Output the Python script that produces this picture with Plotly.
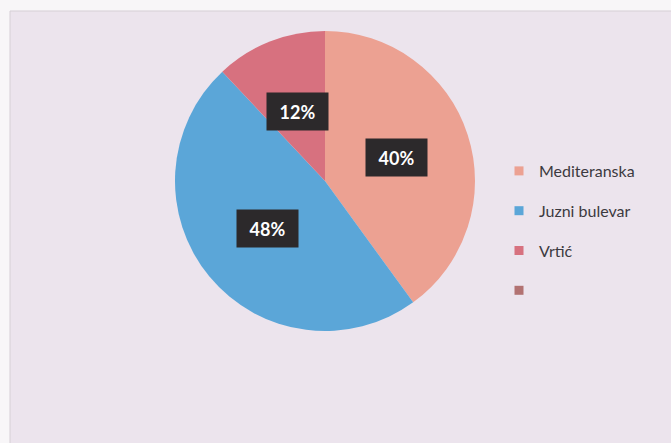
import math
import plotly.graph_objects as go

# ---- data ----
labels = ["Mediteranska", "Juzni bulevar", "Vrtić", ""]
values = [40, 48, 12, 0]
colors = ["#eca192", "#5ba6d8", "#d7717f", "#b27272"]

W, H = 671, 443
# pie geometry (pixels)
PCX, PCY, PR = 325, 181, 150
dom_x = [(PCX - PR) / W, (PCX + PR) / W]
dom_y = [1 - (PCY + PR) / H, 1 - (PCY - PR) / H]

fig = go.Figure()
fig.add_trace(go.Pie(
    labels=labels, values=values,
    marker=dict(colors=colors, line=dict(width=0)),
    sort=False, direction="clockwise", rotation=0,
    textinfo="none", hoverinfo="label+percent",
    showlegend=False,
    domain=dict(x=dom_x, y=dom_y),
))

# legend entries (one group per item to get wider row spacing)
for lab, col in zip(labels, colors):
    fig.add_trace(go.Scatter(
        x=[None], y=[None], mode="markers", name=lab,
        legendgroup=lab if lab else "blank",
        marker=dict(symbol="square", size=9, color=col),
        hoverinfo="skip",
    ))

# percentage labels derived from values, placed at mid-angle, half radius
total = sum(values)
annotations = []
cum = 0
cx = (dom_x[0] + dom_x[1]) / 2
cy = (dom_y[0] + dom_y[1]) / 2
for v in values:
    if v > 0:
        mid = (cum + v / 2) / total * 2 * math.pi
        rr = 0.5 * PR
        ax = cx + rr * math.sin(mid) / W
        ay = cy + rr * math.cos(mid) / H
        annotations.append(dict(
            x=ax, y=ay, xref="paper", yref="paper",
            text=f"{round(v / total * 100)}%", showarrow=False,
            font=dict(family="Lato", size=18, color="#ffffff", weight="bold"),
            bgcolor="#2c292b", borderpad=7, width=47, height=23,
            xanchor="center", yanchor="middle",
        ))
    cum += v

fig.update_layout(
    width=W, height=H,
    margin=dict(l=0, r=0, t=0, b=0),
    paper_bgcolor="#f8f6f8",
    plot_bgcolor="rgba(0,0,0,0)",
    xaxis=dict(visible=False),
    yaxis=dict(visible=False),
    font=dict(family="Lato", color="#3c3a40"),
    legend=dict(
        x=499 / W, y=1 - 154 / H, xanchor="left", yanchor="top",
        font=dict(size=16, color="#3c3a40", family="Lato"),
        bgcolor="rgba(0,0,0,0)", tracegroupgap=16,
    ),
    annotations=annotations,
    shapes=[dict(
        type="rect", xref="paper", yref="paper",
        x0=10 / W, x1=1.01, y0=-0.01, y1=1 - 11 / H,
        fillcolor="#ece4ed", line=dict(color="#d6cfd6", width=1),
        layer="below",
    )],
)

fig.write_html("out.html", config={"displayModeBar": False},
               post_script="document.body.style.margin='0';")
